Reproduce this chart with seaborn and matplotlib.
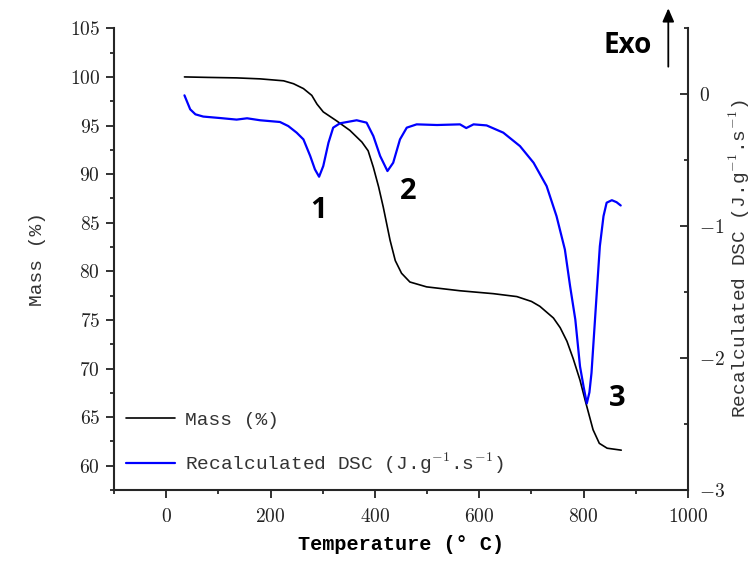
import matplotlib
matplotlib.use('Agg')
import matplotlib.pyplot as plt
import seaborn as sns
from matplotlib.ticker import MultipleLocator, FuncFormatter

# TGA mass curve
mass_temp = [35, 80, 135, 180, 225, 244, 263, 279, 289, 301, 326, 352, 375, 387,
             397, 407, 416, 429, 439, 451, 467, 499, 563, 627, 672, 700, 716, 742,
             755, 768, 780, 793, 803, 818, 830, 845, 872]
mass_pct = [100.0, 99.95, 99.9, 99.8, 99.6, 99.3, 98.8, 98.1, 97.2, 96.4, 95.5, 94.5,
            93.3, 92.4, 90.7, 88.7, 86.6, 83.2, 81.1, 79.8, 78.9, 78.4, 78.0, 77.7,
            77.4, 76.9, 76.4, 75.2, 74.2, 72.8, 71.0, 68.8, 66.7, 63.7, 62.3, 61.8, 61.6]

# DSC curve
dsc_temp = [35, 46, 56, 71, 103, 135, 155, 180, 218, 234, 250, 263, 276, 285, 293,
            301, 311, 320, 333, 365, 384, 397, 410, 424, 435, 448, 461, 480, 519,
            563, 575, 589, 614, 646, 678, 704, 729, 748, 764, 774, 784, 793, 800,
            806, 811, 815, 825, 831, 838, 844, 854, 863, 871]
dsc_val = [-0.008, -0.114, -0.152, -0.169, -0.180, -0.192, -0.182, -0.197, -0.210,
           -0.241, -0.291, -0.342, -0.468, -0.569, -0.625, -0.544, -0.367, -0.253,
           -0.220, -0.197, -0.215, -0.317, -0.468, -0.582, -0.519, -0.342, -0.253,
           -0.228, -0.233, -0.228, -0.256, -0.228, -0.236, -0.291, -0.393, -0.519,
           -0.696, -0.924, -1.177, -1.455, -1.708, -2.063, -2.22, -2.344, -2.26,
           -2.113, -1.510, -1.152, -0.924, -0.822, -0.803, -0.818, -0.843]

# peak labels: text, temperature, mass-axis baseline
peak_labels = ['1', '2', '3']
peak_temp = [292, 464, 865]
peak_mass = [85.45, 87.4, 66.15]

sns.set_theme(style='ticks')
plt.rcParams['font.family'] = ['Liberation Mono', 'DejaVu Sans Mono']
plt.rcParams['mathtext.fontset'] = 'cm'

fig = plt.figure(figsize=(7.56, 5.62), dpi=100)
ax = fig.add_axes([0.1508, 0.1281, 0.7593, 0.8215])
ax2 = ax.twinx()

sns.lineplot(x=mass_temp, y=mass_pct, ax=ax, color='black', linewidth=1.2,
             estimator=None, sort=False, label='Mass (%)')
sns.lineplot(x=dsc_temp, y=dsc_val, ax=ax2, color='#0000ff', linewidth=1.6,
             estimator=None, sort=False, label='Recalculated DSC (J.g$^{-1}$.s$^{-1}$)')

ax.set_xlim(-100, 1000)
ax.set_ylim(57.5, 105)
ax2.set_ylim(-3, 0.5)

ax.xaxis.set_major_locator(MultipleLocator(200))
ax.xaxis.set_minor_locator(MultipleLocator(100))
ax.yaxis.set_major_locator(MultipleLocator(5))
ax.yaxis.set_minor_locator(MultipleLocator(2.5))
ax2.yaxis.set_major_locator(MultipleLocator(1))
ax2.yaxis.set_minor_locator(MultipleLocator(0.5))

fmt = FuncFormatter(lambda v, p: f"${v:g}$")
ax.xaxis.set_major_formatter(fmt)
ax.yaxis.set_major_formatter(fmt)
ax2.yaxis.set_major_formatter(fmt)

for a in (ax, ax2):
    a.spines['top'].set_visible(False)
    for s in a.spines.values():
        s.set_linewidth(1.5)
ax.spines['right'].set_visible(False)
ax2.spines['left'].set_visible(False)
ax2.spines['bottom'].set_visible(False)

ax.tick_params(axis='x', which='major', direction='out', length=6, width=1.3,
               pad=7, labelsize=14, colors='#222222')
ax.tick_params(axis='x', which='minor', direction='out', length=3, width=1.3)
ax.tick_params(axis='y', which='major', direction='out', length=6, width=1.3,
               pad=4, labelsize=14, colors='#222222')
ax.tick_params(axis='y', which='minor', direction='out', length=3, width=1.3)
ax2.tick_params(axis='y', which='major', direction='in', length=6, width=1.3,
                pad=8, labelsize=14, colors='#222222')
ax2.tick_params(axis='y', which='minor', direction='in', length=3, width=1.3)

ax.set_xlabel('Temperature (° C)', fontsize=14.5, fontweight='bold', color='black')
ax.set_ylabel('Mass (%)', fontsize=14, color='#333333')
ax2.set_ylabel('Recalculated DSC (J.g$^{-1}$.s$^{-1}$)', fontsize=14, color='#333333')
ax.xaxis.set_label_coords(0.5, -0.098)
ax.yaxis.set_label_coords(-0.118, 0.5)
ax2.yaxis.set_label_coords(1.068, 0.5)

# combined legend
ax.get_legend().remove()
h1, l1 = ax.get_legend_handles_labels()
h2, l2 = ax2.get_legend_handles_labels()
ax2.legend(h1 + h2, l1 + l2, loc='lower left', bbox_to_anchor=(0.021, 0.03),
           frameon=False, fontsize=14, handlelength=2.5, handletextpad=0.55,
           labelspacing=1.15, borderpad=0, borderaxespad=0, labelcolor='#333333')

for txt, t, m in zip(peak_labels, peak_temp, peak_mass):
    ax.text(t, m, txt, ha='center', va='baseline', fontsize=21,
            fontweight='bold', family=['Open Sans', 'DejaVu Sans'], color='black')

fig.text(627.5 / 756, 1 - 53.3 / 562, 'Exo', ha='center', va='baseline',
         fontsize=20, fontweight='bold', family=['Open Sans', 'DejaVu Sans'],
         color='black')
ax.annotate('', xy=(668.3 / 756, 1 - 8.3 / 562), xytext=(668.3 / 756, 1 - 66.7 / 562),
            xycoords='figure fraction', textcoords='figure fraction',
            annotation_clip=False,
            arrowprops=dict(arrowstyle='-|>,head_length=0.8,head_width=0.35',
                            color='black', lw=1.3, shrinkA=0, shrinkB=0,
                            mutation_scale=10))

fig.savefig('out.png', dpi=100)
